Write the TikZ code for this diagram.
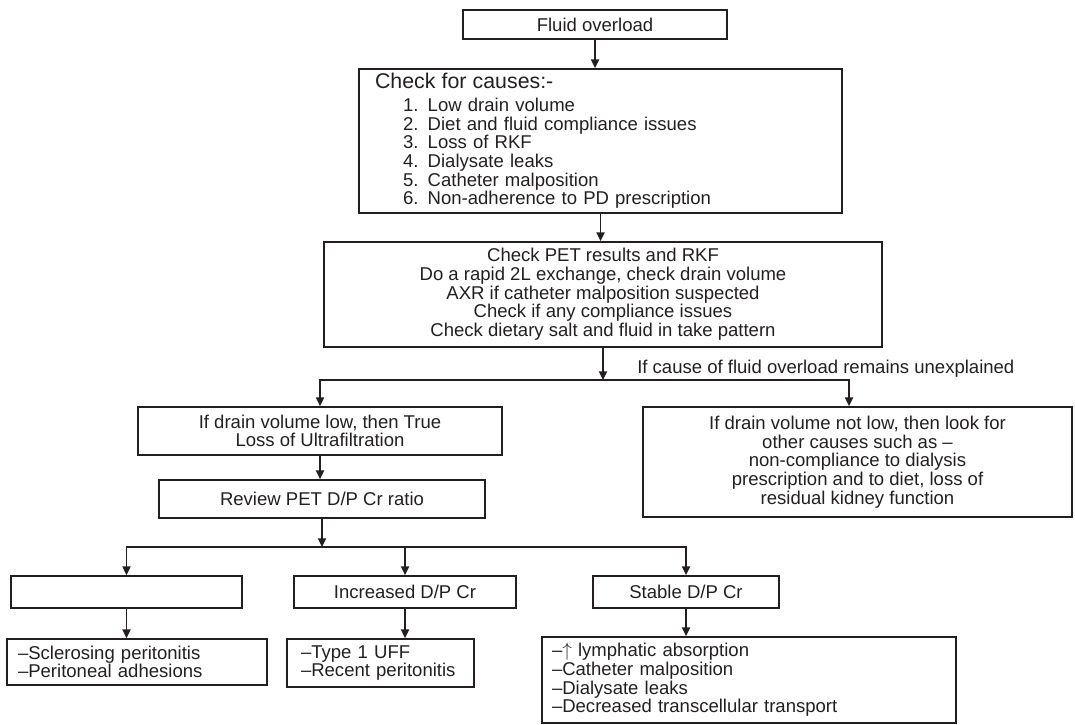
\documentclass[tikz,border=0pt]{standalone}
\usepackage{amsmath}
\usepackage{amssymb}
\usepackage{fontspec}
\setmainfont{Liberation Sans}
\usepackage{tikz}
\usetikzlibrary{
  arrows.meta,
  calc,
  positioning
}

\definecolor{ink}{HTML}{231F20}
\newcommand{\fs}{\fontsize{13.9}{14}\selectfont}
\tikzset{
  box/.style={draw=ink, line width=1.3pt, rectangle, inner sep=0pt, align=center, font=\fs, text=ink},
  lbox/.style={box, align=left},
  link/.style={draw=ink, line width=1.3pt, line cap=rect},
  arr/.style={link, -{Triangle[length=6.5pt, width=6pt]}}
}

\begin{document}
\begin{tikzpicture}[x=0.75pt, y=-0.75pt]
            \useasboundingbox (0, 0) rectangle (1075, 725);
            \node[box, minimum width=198pt, minimum height=21.75pt] (over) at (595, 24.5) {Fluid overload};
            \node[lbox, minimum width=362.25pt, minimum height=108pt, text width=338.25pt, inner xsep=12pt] (chk) at (600.5, 141) {%
              {\fontsize{16}{14}\selectfont Check for causes:-}\\[3pt]
              \hspace*{21pt}1. Low drain volume\\
              \hspace*{21pt}2. Diet and fluid compliance issues\\
              \hspace*{21pt}3. Loss of RKF\\
              \hspace*{21pt}4. Dialysate leaks\\
              \hspace*{21pt}5. Catheter malposition\\
              \hspace*{21pt}6. Non-adherence to PD prescription};
            \node[box, minimum width=418.5pt, minimum height=78.75pt] (pet) at (603, 294.5) {Check PET results and RKF\\
              Do a rapid 2L exchange, check drain volume\\
              AXR if catheter malposition suspected\\
              Check if any compliance issues\\
              Check dietary salt and fluid in take pattern};
            \node[box, minimum width=273pt, minimum height=36pt] (low) at (320, 431) {If drain volume low, then True\\Loss of Ultrafiltration};
            \node[box, minimum width=321.75pt, minimum height=82.5pt] (oth) at (857.5, 462) {If drain volume not low, then look for\\
              other causes such as –\\
              non-compliance to dialysis\\
              prescription and to diet, loss of\\
              residual kidney function};
            \node[box, minimum width=244.5pt, minimum height=28.5pt] (rev) at (322, 499) {Review PET D/P Cr ratio};
            \node[box, minimum width=173.25pt, minimum height=24pt] (emp) at (126.5, 592) {};
            \node[box, minimum width=166.5pt, minimum height=24pt] (inc) at (405, 592) {Increased D/P Cr};
            \node[box, minimum width=139.5pt, minimum height=24pt] (stb) at (686, 592) {Stable D/P Cr};
            \node[lbox, minimum width=195pt, minimum height=34.5pt, text width=178.5pt, inner xsep=8.25pt] (scl) at (137, 662) {–Sclerosing peritonitis\\–Peritoneal adhesions};
            \node[lbox, minimum width=140.25pt, minimum height=36pt, text width=119.25pt, inner xsep=10.5pt] (typ) at (380.5, 663) {–Type 1 UFF\\–Recent peritonitis};
            \node[lbox, minimum width=310.5pt, minimum height=64.5pt, text width=295.5pt, inner xsep=7.5pt] (lym) at (749, 680) {–$\uparrow$ lymphatic absorption\\
              –Catheter malposition\\
              –Dialysate leaks\\
              –Decreased transcellular transport};
            \draw[arr] (over.south) -- (over.south |- chk.north);
            \draw[arr] (chk.south) -- (chk.south |- pet.north);
            \coordinate (j1) at (603, 380);
            \coordinate (r1) at (849, 380);
            \draw[arr] (pet.south) -- (j1);
            \draw[link] (low.north |- j1) -- (r1);
            \draw[arr] (low.north |- j1) -- (low.north);
            \draw[arr] (r1) -- (r1 |- oth.north);
            \node[anchor=base west, inner sep=0pt, font=\fs, text=ink] (why) at (637, 373) {If cause of fluid overload remains unexplained};
            \draw[arr] (low.south) -- (low.south |- rev.north);
            \coordinate (j2) at (322, 547);
            \draw[arr] (rev.south) -- (j2);
            \draw[link] (emp.north |- j2) -- (stb.north |- j2);
            \draw[arr] (emp.north |- j2) -- (emp.north);
            \draw[arr] (inc.north |- j2) -- (inc.north);
            \draw[arr] (stb.north |- j2) -- (stb.north);
            \draw[arr] (emp.south) -- (emp.south |- scl.north);
            \draw[arr] (inc.south) -- (inc.south |- typ.north);
            \draw[arr] (stb.south) -- (stb.south |- lym.north);
          \end{tikzpicture}
\end{document}
